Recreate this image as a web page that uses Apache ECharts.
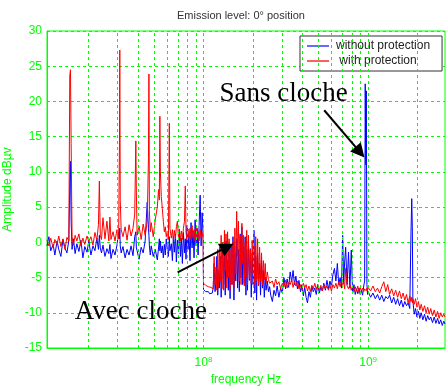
<!DOCTYPE html>
<html><head><meta charset="utf-8">
<script src="https://cdn.jsdelivr.net/npm/echarts@6/dist/echarts.min.js"></script>
<style>html,body{margin:0;padding:0;background:#fff}#c{width:446px;height:387px}</style>
</head><body><div id="c"></div>
<script>
const chartTitle = 'Emission level: 0\u00b0 position';
const xName = 'frequency Hz';
const yName = 'Amplitude dB\u00b5v';
const seriesNames = ['without protection', ' with protection'];

// frequencies in MHz, levels in dBuV
const freqLow = [11.2,11.5,11.8,12.2,12.5,12.9,13.2,13.6,14.0,14.4,14.8,15.2,15.4,15.55,15.7,15.9,16.2,16.6,17.0,17.5,18.0,18.5,19.0,19.6,20.1,20.7,21.3,21.9,22.5,23.0,23.3,23.6,24.0,24.5,25.2,25.9,26.6,27.0,27.4,28.2,29.0,29.8,30.5,30.85,31.0,31.2,31.6,32.4,33.4,34.3,35.3,36.3,37.3,38.2,38.8,39.1,39.5,40.6,41.8,43.0,44.2,45.5,46.3,46.6,46.9,47.5,48.1,49.5,50.9,52.4,53.3,53.9,54.3,54.7,55.4,56.2,57.0,57.8,58.6,59.4,60.3,61.2,62.0,62.5,63.8,64.7,65.6,66.5,67.5,68.4,69.4,70.4,71.4,72.4,73.4,74.4,75.5,76.6,77.5,78.3,79.4,80.5,81.6,82.8,84.0,85.2,86.4,87.6,88.9,90.1,91.4,92.7,94.0,95.4,96.7,98.1,99.5];
const blueLow = [-0.5,0.8,-1.2,-0.3,-1.8,0.2,-1.0,-2.0,0.4,-0.8,-1.5,0.3,8.5,11.5,3.0,-1.0,0.5,-1.6,-0.2,-1.3,0.3,-2.2,-0.6,-1.4,0.2,-1.8,-0.5,-1.2,0.6,-1.0,1.0,-0.8,-1.5,-0.4,-2.0,-0.9,-1.6,-0.3,-2.3,-1.0,-1.8,-0.4,1.5,0.5,2.0,-0.5,-1.5,-0.6,-2.2,-1.0,-1.8,-0.5,-1.9,0.8,1.5,-0.8,-1.2,-2.4,-0.7,-1.5,0.2,5.7,2.0,1.0,-0.5,-1.8,-0.5,-2.0,-1.0,-2.5,-0.8,0.5,-1.2,0.2,-1.5,-0.5,-2.2,-0.3,-1.8,0.5,-1.0,-2.0,0.8,-1.2,-0.2,-2.6,0.8,-1.4,1.2,-2.8,0.3,-1.6,1.8,-2.0,0.6,-3.0,1.4,-1.5,0.5,-2.4,2.4,-1.0,1.0,-2.6,2.8,-0.8,1.6,-2.2,3.2,-0.5,2.0,-1.8,2.4,6.7,-0.5,4.2,0.8];
const redLow = [0.3,-0.5,0.6,-0.8,0.4,-0.3,0.9,-0.6,0.5,-1.0,0.7,0.2,23.6,24.5,14.0,0.8,-0.4,1.0,0.2,1.2,-0.5,0.6,-0.3,0.9,0.1,0.8,-0.4,1.4,0.3,2.5,8.7,1.0,0.4,3.5,0.5,3.0,0.2,3.6,0.4,1.5,0.2,1.8,0.5,13.8,27.3,6.0,1.8,0.8,2.2,0.3,2.5,0.9,2.0,4.0,14.4,7.0,1.0,2.3,0.4,2.6,1.0,3.0,12.0,23.9,4.5,1.5,2.8,0.8,3.2,5.0,7.5,6.0,17.9,10.0,6.5,4.8,3.0,1.5,2.2,0.8,1.6,0.4,16.9,2.0,0.6,1.8,0.3,1.7,0.5,2.2,3.0,0.8,1.9,0.2,1.6,0.4,2.0,3.0,8.0,1.4,0.3,1.9,0.6,2.0,0.4,2.4,0.7,1.8,0.2,2.1,0.5,1.6,0.2,1.8,0.6,1.4,0.4];

const freqMid = [100,101.5,103,105,107,109,111,113,114.5,116,117.5,119,120.5,122,123.5,125,126.5,128,129.5,131,132.5,134,135.5,137,138.5,140,141.5,143,145,147,149,151,153,155,157,159,161,163,165,167,169,171,173,175,177,179,181,183,185,187.5,190,192.5,195,197.5,200,202.5,205,207.5,210,213,216,219,222,225,228,231,234,237,240,244,248,252,256,262,268,274,280,287,294,301,308,315,322,329,336,343,350,357,364,372,380,388,396,404,412,420,428,437,446,455,464,474,484,494,505,516,527,538,550,562,574,586,598,611,624,637,650,663,676,689,700,710,720,730,745,760,775,790,805,820,835,850,865,880,895,910,925,940,952,960,968,975,983,992];
const blueMid = [-6.7,-6.9,-7.0,-7.2,-7.0,-7.3,-7.4,-7.2,-6.5,-3.0,-7.0,-5.5,-2.0,-7.5,-4.0,-6.5,-2.0,-7.8,-3.5,-1.0,-6.0,-1.5,-7.5,0.2,-5.0,-2.5,-6.8,-0.8,-8.0,-0.4,-6.0,0.8,-8.2,-1.5,-5.5,0.5,-6.5,-1.0,-7.0,1.2,-5.0,2.2,-6.0,-0.5,-5.8,0.8,-7.5,-1.0,-6.8,0.0,-5.4,-0.9,-7.8,-1.5,-6.0,1.7,-7.2,-2.0,-8.2,-1.6,-6.0,-3.0,-7.5,-2.5,-6.5,-4.0,-7.8,-5.0,-6.8,-5.5,-7.0,-6.3,-7.5,-8.4,-6.8,-7.6,-6.2,-7.8,-6.5,-7.2,-5.0,-6.6,-5.2,-6.4,-4.2,-5.6,-4.0,-6.0,-4.8,-6.6,-5.4,-7.0,-6.0,-7.6,-6.4,-7.8,-8.6,-7.0,-7.8,-6.2,-7.0,-6.5,-7.4,-6.0,-7.2,-6.4,-6.9,-5.8,-6.8,-5.4,-6.6,-5.5,-6.3,-4.6,-3.7,-5.5,-3.0,-6.0,-5.0,-6.5,1.0,-5.8,-2.8,-0.7,-6.0,-1.4,-6.5,-1.1,-7.2,-6.0,-7.4,-6.6,-7.3,-6.5,-7.4,-6.8,-7.5,-6.2,-5.5,22.5,11.0,21.5,-6.0,-7.4];
const redMid = [-5.8,-6.0,-6.1,-6.2,-6.3,-6.3,-6.4,-6.5,-6.6,-2.0,-6.0,-3.5,-6.8,-1.0,-6.5,-0.7,-5.5,1.0,-6.6,0.0,-6.8,1.7,-4.0,1.2,-6.5,1.5,-5.0,0.5,-6.8,-1.0,-6.0,0.0,-6.3,2.0,-4.5,4.4,-2.0,3.0,-5.5,1.0,-6.0,2.7,-3.0,1.0,-6.2,0.0,-5.0,1.7,-6.0,1.0,-5.2,-1.0,-5.8,0.3,-4.5,-0.5,-6.0,0.8,-5.4,0.5,-6.2,-0.7,-5.5,-1.5,-6.0,-2.6,-5.3,-3.0,-5.8,-4.2,-5.3,-5.8,-6.0,-5.5,-6.4,-5.2,-6.0,-5.6,-6.6,-5.8,-6.3,-5.4,-6.5,-5.7,-6.0,-5.3,-6.4,-5.6,-6.2,-5.5,-6.6,-6.0,-6.8,-5.8,-6.4,-6.0,-6.9,-6.2,-7.0,-6.1,-6.6,-5.8,-6.7,-6.0,-6.8,-6.1,-6.9,-6.0,-6.6,-6.2,-6.8,-6.1,-6.9,-6.0,-6.5,-5.8,-6.6,-5.6,-6.3,-5.5,-6.0,-5.7,-6.6,-3.7,-6.2,-6.6,-6.0,-6.8,-6.1,-7.0,-6.3,-6.9,-6.2,-7.1,-6.4,-6.9,-6.5,-7.0,-6.6,-6.8,-6.4,-6.9,-6.5,-6.8];

const freqHigh = [1000,1035,1070,1105,1140,1175,1210,1245,1280,1315,1350,1390,1430,1470,1510,1550,1590,1630,1670,1710,1750,1790,1820,1840,1855,1870,1905,1940,1980,2020,2060,2100,2150,2200,2250,2300,2350,2400,2460,2520,2580,2640,2700,2760,2820,2880,2930];
const blueHigh = [-7.0,-7.8,-7.2,-8.0,-7.4,-8.2,-7.5,-8.4,-7.7,-8.0,-7.5,-8.6,-7.8,-8.8,-8.0,-9.0,-8.2,-9.2,-8.4,-9.0,-8.6,-9.4,1.2,6.2,2.2,-8.4,-10.2,-9.4,-10.6,-9.8,-10.8,-10.0,-11.0,-10.2,-11.2,-10.4,-11.0,-10.6,-11.4,-10.6,-11.5,-10.8,-11.6,-11.0,-11.8,-11.2,-11.6];
const redHigh = [-6.4,-6.9,-6.2,-7.0,-6.5,-7.2,-6.3,-5.6,-7.0,-6.0,-7.4,-6.6,-7.6,-6.8,-7.8,-6.9,-8.0,-7.2,-8.2,-7.4,-8.6,-7.6,-8.4,-7.8,-8.6,-8.0,-8.8,-8.0,-9.2,-8.4,-9.6,-8.8,-9.8,-9.0,-10.0,-9.2,-10.2,-9.4,-10.4,-9.6,-10.6,-9.8,-10.8,-10.0,-10.6,-10.2,-10.6];

const yMin = -15, yMax = 30, yStep = 5;
const xMin = 11.2, xMax = 2930;          // MHz
const mhzExponent = 6;                    // MHz -> Hz for the 10^n labels
const minorGridFreqs = [20,30,40,50,60,70,80,90,100,200,300,400,500,600,700,800,900,1000,2000];

// annotations (data coordinates)
const notes = [
  {text: 'Sans cloche', at: [125, 21.1]},
  {text: 'Avec cloche', at: [16.5, -9.9]}
];
const arrows = [
  [[541, 18.75], [892, 12.8]],
  [[69.6, -4.26], [139.6, -0.65]]
];

function zip(f, v) { return f.map((x, i) => [x, v[i]]); }
const blueData = zip(freqLow, blueLow).concat(zip(freqMid, blueMid), zip(freqHigh, blueHigh));
const redData = zip(freqLow, redLow).concat(zip(freqMid, redMid), zip(freqHigh, redHigh));

const GREEN = '#00ff00';
const FONT = '"Liberation Sans", Arial, sans-serif';
const chart = echarts.init(document.getElementById('c'), null, {renderer: 'canvas'});
chart.setOption({
  animation: false,
  backgroundColor: '#fff',
  title: {text: chartTitle, left: 177, top: 10, padding: 0,
    textStyle: {fontFamily: FONT, fontSize: 11, fontWeight: 'normal', color: '#333'}},
  legend: {
    orient: 'vertical', left: 300, top: 36,
    data: [
      {name: seriesNames[0], itemStyle: {color: '#6a6aff'}},
      {name: seriesNames[1], itemStyle: {color: '#ff5f5f'}}
    ],
    icon: 'rect', itemWidth: 22, itemHeight: 2, itemGap: 1,
    padding: [3, 12, 3, 7],
    borderColor: '#333', borderWidth: 1, backgroundColor: '#fff',
    textStyle: {fontFamily: FONT, fontSize: 12, color: '#222', lineHeight: 14, padding: [0, 0, 0, 2]}
  },
  grid: {left: 47, top: 31, right: 1, bottom: 39, show: true, borderColor: GREEN, borderWidth: 1,
    containLabel: false, outerBoundsMode: 'none'},
  xAxis: {
    type: 'log', logBase: 10, min: xMin, max: xMax,
    name: xName, nameLocation: 'middle', nameGap: 25,
    nameTextStyle: {fontFamily: FONT, fontSize: 12, color: GREEN},
    axisLine: {onZero: false, lineStyle: {color: GREEN}},
    axisTick: {show: false},
    splitLine: {show: false},
    axisLabel: {
      margin: 8,
      formatter: function (v) {
        const e = Math.log10(v);
        if (Math.abs(e - Math.round(e)) < 1e-6) return '{b|10}{s|' + (Math.round(e) + mhzExponent) + '}';
        return '';
      },
      rich: {
        b: {fontFamily: FONT, fontSize: 12, color: GREEN},
        s: {fontFamily: FONT, fontSize: 8, color: GREEN, verticalAlign: 'top', padding: [0, 0, 6, 0]}
      }
    }
  },
  yAxis: {
    type: 'value', min: yMin, max: yMax, interval: yStep,
    name: yName, nameLocation: 'middle', nameGap: 26,
    nameTextStyle: {fontFamily: FONT, fontSize: 12, color: GREEN},
    axisLine: {show: true, onZero: false, lineStyle: {color: GREEN}},
    axisTick: {show: false},
    axisLabel: {fontFamily: FONT, fontSize: 12, color: GREEN, margin: 5},
    splitLine: {show: true, lineStyle: {color: GREEN, type: [3, 3], width: 1}}
  },
  series: [
    {
      name: 'grid', type: 'line', data: [], z: 1, silent: true,
      markLine: {
        silent: true, symbol: ['none', 'none'], animation: false,
        label: {show: false},
        lineStyle: {color: GREEN, type: [3, 3], width: 1},
        data: minorGridFreqs.map(v => ({xAxis: v}))
      }
    },
    {
      name: seriesNames[0], type: 'line', data: blueData, showSymbol: false, z: 2,
      lineStyle: {color: '#0000ff', width: 1}, itemStyle: {color: '#0000ff'}
    },
    {
      name: seriesNames[1], type: 'line', data: redData, showSymbol: false, z: 3,
      lineStyle: {color: '#ff0000', width: 1}, itemStyle: {color: '#ff0000'}
    },
    {
      name: 'arrows', type: 'line', data: [], z: 5, silent: true,
      markLine: {
        silent: true, animation: false, symbol: ['none', 'triangle'], symbolSize: 14,
        label: {show: false},
        lineStyle: {color: '#000', width: 2, type: 'solid'},
        itemStyle: {color: '#000'},
        data: arrows.map(a => [{coord: a[0]}, {coord: a[1]}])
      }
    }
  ]
});
const graphics = notes.map(n => {
  const p = chart.convertToPixel({gridIndex: 0}, n.at);
  return {type: 'text', x: p[0], y: p[1], z: 10,
    style: {text: n.text, font: '27px "Liberation Serif", "Times New Roman", serif', fill: '#000', verticalAlign: 'middle', align: 'left'}};
});
chart.setOption({graphic: graphics});
</script></body></html>
